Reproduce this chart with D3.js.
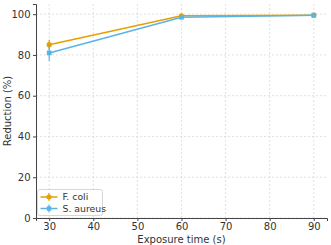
<!DOCTYPE html>
<html><head><meta charset="utf-8">
<script src="https://cdn.jsdelivr.net/npm/d3@7"></script>
<style>body{margin:0;background:#fff}svg{display:block;font-family:"DejaVu Sans",sans-serif}</style>
</head><body><svg id="c" width="331" height="245"></svg>
<script>
const times = [30, 60, 90];
const seriesNames = ["F. coli", "S. aureus"];
const fColi = [85.0, 99.2, 99.5];
const fColiErr = [2.5, 0.5, 0.3];
const sAureus = [81.0, 98.5, 99.5];
const sAureusErr = [4.0, 0.6, 0.3];
const xTicks = [30, 40, 50, 60, 70, 80, 90];
const yTicks = [0, 20, 40, 60, 80, 100];
const colors = ["#E69F00", "#56B4E9"];

const svg = d3.select("#c");
const L = 36, R = 327, T = 4, B = 218;
const x = d3.scaleLinear().domain([27, 93]).range([L, R]);
const y = d3.scaleLinear().domain([0, 105]).range([B, T]);

const g = svg.append("g");
g.selectAll(".gx").data(xTicks).join("line")
  .attr("x1", d => x(d)).attr("x2", d => x(d)).attr("y1", T).attr("y2", B)
  .attr("stroke", "#d8d8d8").attr("stroke-width", 0.8).attr("stroke-dasharray", "2,2");
g.selectAll(".gy").data(yTicks).join("line")
  .attr("x1", L).attr("x2", R).attr("y1", d => y(d)).attr("y2", d => y(d))
  .attr("stroke", "#d8d8d8").attr("stroke-width", 0.8).attr("stroke-dasharray", "2,2");

const xa = svg.append("g").attr("transform", `translate(0,${B})`)
  .call(d3.axisBottom(x).tickValues(xTicks).tickSize(3).tickPadding(1.5));
const ya = svg.append("g").attr("transform", `translate(${L},0)`)
  .call(d3.axisLeft(y).tickValues(yTicks).tickSize(3).tickPadding(2.5));
[xa, ya].forEach(a => {
  a.selectAll("path").attr("stroke", "#444").attr("stroke-width", 1);
  a.selectAll("line").attr("stroke", "#444");
  a.selectAll("text").attr("fill", "#333").attr("font-size", 10).attr("font-family", "DejaVu Sans");
});

const data = [
  {name: seriesNames[0], vals: fColi, err: fColiErr, color: colors[0], shape: d3.symbolCircle},
  {name: seriesNames[1], vals: sAureus, err: sAureusErr, color: colors[1], shape: d3.symbolSquare}
];
const line = d3.line().x((d, i) => x(times[i])).y(d => y(d));
data.forEach(s => {
  const sg = svg.append("g");
  sg.append("path").attr("d", line(s.vals)).attr("fill", "none").attr("stroke", s.color).attr("stroke-width", 1.5);
  s.vals.forEach((v, i) => {
    sg.append("line").attr("x1", x(times[i])).attr("x2", x(times[i]))
      .attr("y1", y(v - s.err[i])).attr("y2", y(v + s.err[i]))
      .attr("stroke", s.color).attr("stroke-width", 1.2);
    sg.append("path").attr("d", d3.symbol(s.shape, 22)())
      .attr("transform", `translate(${x(times[i])},${y(v)})`).attr("fill", s.color);
  });
});

const lg = svg.append("g").attr("transform", "translate(37.5,189.5)");
lg.append("rect").attr("width", 65).attr("height", 26).attr("rx", 2)
  .attr("fill", "#fff").attr("fill-opacity", 0.85).attr("stroke", "#ccc").attr("stroke-width", 0.8);
data.forEach((s, i) => {
  const yy = 7.5 + i * 11.5;
  lg.append("line").attr("x1", 3).attr("x2", 20).attr("y1", yy).attr("y2", yy).attr("stroke", s.color).attr("stroke-width", 1.5);
  lg.append("line").attr("x1", 11.5).attr("x2", 11.5).attr("y1", yy - 4).attr("y2", yy + 4).attr("stroke", s.color).attr("stroke-width", 1.2);
  lg.append("path").attr("d", d3.symbol(s.shape, 20)()).attr("transform", `translate(11.5,${yy})`).attr("fill", s.color);
  lg.append("text").attr("x", 25).attr("y", yy).attr("dy", "0.35em").attr("font-size", 9.3).attr("fill", "#333").text(s.name);
});

svg.append("text").attr("x", (L + R) / 2).attr("y", 243).attr("text-anchor", "middle")
  .attr("font-size", 10).attr("fill", "#333").text("Exposure time (s)");
svg.append("text").attr("transform", `translate(11,${(T + B) / 2}) rotate(-90)`).attr("text-anchor", "middle")
  .attr("font-size", 10).attr("fill", "#333").text("Reduction (%)");
</script></body></html>
